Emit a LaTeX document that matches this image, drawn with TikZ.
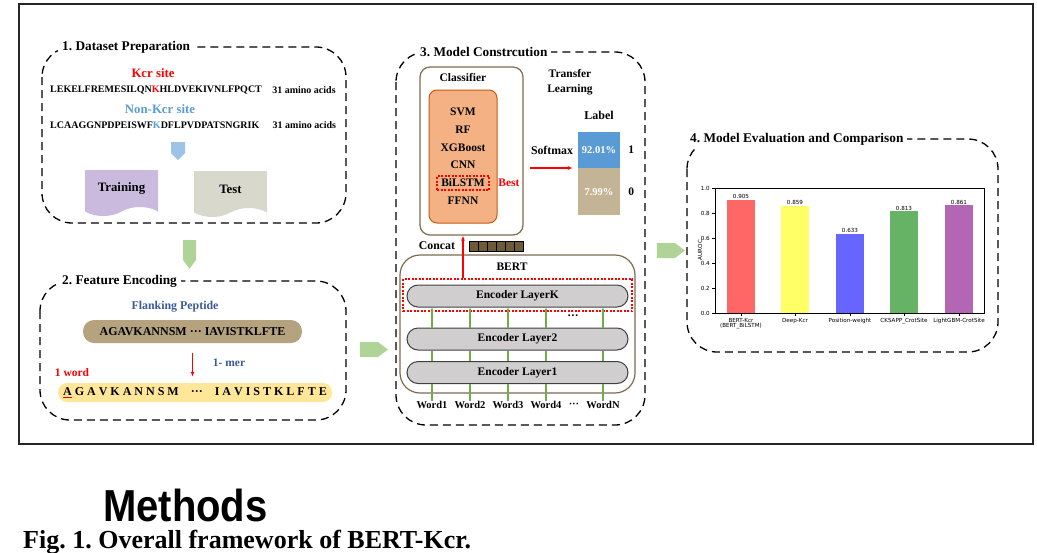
\documentclass[tikz,border=0pt]{standalone}
\usepackage{fontspec}
\setmainfont{Liberation Serif}
\newfontfamily\chartfont{DejaVu Sans}
\newfontfamily\methfont{Liberation Sans}
\usepackage{xcolor}
\usetikzlibrary{positioning,arrows.meta,shapes.symbols}
\frenchspacing

\newcommand{\fsize}[1]{\fontsize{#1}{#1}\selectfont}

\definecolor{kcrred}{RGB}{255,0,0}
\definecolor{nonblue}{RGB}{91,155,213}
\definecolor{darkblue}{RGB}{59,89,152}
\definecolor{trainpurple}{RGB}{201,186,222}
\definecolor{testgray}{RGB}{216,216,204}
\definecolor{flowgreen}{RGB}{176,212,152}
\definecolor{lightblue}{RGB}{157,195,230}
\definecolor{peptan}{RGB}{181,163,128}
\definecolor{wordyellow}{RGB}{255,230,153}
\definecolor{clforange}{RGB}{244,177,131}
\definecolor{clfedge}{RGB}{197,90,17}
\definecolor{brownedge}{RGB}{127,106,78}
\definecolor{encgray}{RGB}{208,206,206}
\definecolor{labtan}{RGB}{196,180,150}
\definecolor{concatbrown}{RGB}{110,90,55}
\definecolor{linegreen}{RGB}{112,173,71}
\definecolor{barred}{RGB}{255,102,102}
\definecolor{baryellow}{RGB}{255,255,102}
\definecolor{barblue}{RGB}{102,102,255}
\definecolor{bargreen}{RGB}{102,179,102}
\definecolor{barpurple}{RGB}{179,102,179}

\begin{document}
\begin{tikzpicture}[
  x=1pt, y=-1pt,
  panel/.style={draw, dash pattern=on 8pt off 5pt, line width=1.3pt, rounded corners=30pt},
  ptitle/.style={anchor=west, fill=white, inner xsep=4pt, inner ysep=3pt, font=\fsize{13.3}\bfseries},
  txt/.style={inner sep=0pt, font=\fsize{11.5}\bfseries},
  seq/.style={inner sep=0pt, font=\fsize{10}\bfseries},
  flow/.style={signal, fill=flowgreen, draw=none, inner sep=0pt, signal pointer angle=74},
  doc/.style={tape, tape bend top=none, tape bend bottom=in and out, tape bend height=9pt,
    draw=none, minimum width=73pt, minimum height=46pt, font=\fsize{12.8}\bfseries},
  enc/.style={draw=black!75, line width=1pt, fill=encgray, rounded corners=11pt,
    minimum width=221pt, minimum height=22pt, font=\fsize{11.5}\bfseries},
  redarr/.style={-{Latex[length=5pt,width=4pt]}, red, line width=1.1pt},
  gline/.style={linegreen, line width=1.1pt},
  chartlbl/.style={inner sep=0pt, font=\chartfont\fsize{5.6}}
]
\useasboundingbox (0,0) rectangle (1037,552);
\draw[line width=1.2pt, black!85] (19,4) rectangle (1033,444);

% --- 1. Dataset preparation ---
\draw[panel] (42,47) rectangle (346,223);
\node[ptitle] (t1) at (58,47) {1. Dataset Preparation};
\node[txt, font=\fsize{12.8}\bfseries, text=kcrred] (kcr) at (153,73) {Kcr site};
\node[seq, anchor=west] (seq1) at (50,90) {LEKELFREMESILQN\textcolor{kcrred}{K}HLDVEKIVNLFPQCT};
\node[seq, right=10pt of seq1] (len1) {31 amino acids};
\node[txt, font=\fsize{12.8}\bfseries, text=nonblue] (nonkcr) at (160,109) {Non-Kcr site};
\node[seq, anchor=west] (seq2) at (50,125) {LCAAGGNPDPEISWF\textcolor{nonblue}{K}DFLPVDPATSNGRIK};
\node[seq, right=13pt of seq2] (len2) {31 amino acids};
\node[flow, signal to=south, signal pointer angle=90, fill=lightblue, minimum width=14pt, minimum height=11pt] (split) at (178,147.5) {};
\node[doc, fill=trainpurple] (train) at (121.5,188.5) {Training};
\node[doc, fill=testgray] (test) at (230.5,189.5) {Test};

\node[flow, signal to=south, minimum width=13pt, minimum height=20pt] (g1) at (189.5,250) {};

% --- 2. Feature encoding ---
\draw[panel] (40,281) rectangle (346,420);
\node[ptitle] (t2) at (58,281) {2. Feature Encoding};
\node[txt, font=\fsize{11.9}\bfseries, text=darkblue] (flank) at (175,307) {Flanking Peptide};
\node[txt, font=\fsize{12}\bfseries, fill=peptan, rounded corners=11pt, minimum width=219pt, minimum height=23pt] (pep) at (192.5,331.5) {AGAVKANNSM ··· IAVISTKLFTE};
\node[txt, font=\fsize{12}\bfseries, fill=wordyellow, rounded corners=9pt, minimum width=274pt, minimum height=19pt] (word) at (195,392.5)
  {{\color{red}\underline{\color{black}A}} G A V K A N N S M\quad ···\quad I A V I S T K L F T E};
\draw[redarr, shorten <=10pt, shorten >=6pt] (pep.south) -- (pep.south |- word.north);
\node[txt, text=darkblue] (mer) at (229,363) {1- mer};
\node[txt, text=red] (oneword) at (72,373) {1 word};

\node[flow, signal to=east, minimum width=28pt, minimum height=15pt] (g2) at (369,349.5) {};

% --- 3. Model construction ---
\draw[panel] (396,52) rectangle (645,425);
\node[ptitle] (t3) at (416,52) {3. Model Constrcution};
\node[draw=brownedge, line width=1.2pt, rounded corners=10pt, minimum width=103pt, minimum height=168pt] (clf) at (471.5,151) {};
\node[txt] (clftitle) at (463,78) {Classifier};
\node[draw=clfedge, line width=1pt, fill=clforange, rounded corners=8pt, minimum width=68pt, minimum height=133pt] (orng) at (463,156.5) {};
\foreach \i/\y/\t in {1/112/SVM, 2/130/RF, 3/148/XGBoost, 4/165/CNN, 5/183/BiLSTM, 6/201/FFNN}
  \node[txt] (m\i) at (463,\y) {\t};
\node[draw=red, line width=1.2pt, dash pattern=on 2pt off 1.5pt, minimum width=52pt, minimum height=14pt] (bestbox) at (m5) {};
\node[txt, text=red] (best) at (509,183) {Best};

\node[txt, align=center] (transfer) at (570,82) {Transfer\\[4pt]Learning};
\node[txt, font=\fsize{12}\bfseries] (label) at (599,115) {Label};
\node[fill=nonblue, minimum width=42pt, minimum height=36pt, inner sep=0pt, text=white, font=\fsize{10.5}\bfseries] (lab1) at (599,150) {92.01\%};
\node[fill=labtan, minimum width=42pt, minimum height=47pt, inner sep=0pt, text=white, font=\fsize{10.5}\bfseries, below=0pt of lab1] (lab0) {7.99\%};
\node[txt, right=8pt of lab1] (one) {1};
\node[txt, right=8pt of lab0] (zero) {0};
\node[txt, font=\fsize{11.8}\bfseries] (softmax) at (552,150) {Softmax};
\coordinate (smstart) at (530,168);
\draw[redarr] (smstart) -- ([xshift=-5pt]smstart -| lab1.west);

\node[txt, font=\fsize{11.8}\bfseries] (concat) at (437,246) {Concat};
\foreach \i in {0,...,5}
  \draw[fill=concatbrown, line width=0.6pt] (469+9*\i,241) rectangle ++(9,10);

\node[draw=brownedge, line width=1.2pt, rounded corners=20pt, minimum width=235pt, minimum height=138pt] (bert) at (517.5,324) {};
\node[txt] (berttitle) at (512,267) {BERT};
\node[draw=red, line width=1.2pt, dash pattern=on 2pt off 1.5pt, minimum width=229pt, minimum height=32pt] (kbox) at (517.5,295) {};
\node[enc] (encK) at (517.5,296) {Encoder LayerK};
\node[enc] (enc2) at (517.5,339) {Encoder Layer2};
\node[enc] (enc1) at (517.5,372.5) {Encoder Layer1};
\node[txt] (vdots) at (573,317) {···};
\draw[redarr] (orng.south |- kbox.north) -- (orng.south |- clf.south);

\foreach \i/\x/\t in {1/432/Word1, 2/470/Word2, 3/508/Word3, 4/546/Word4, N/603/WordN}
  \node[txt, font=\fsize{10.5}\bfseries] (w\i) at (\x,405) {\t};
\node[txt, font=\fsize{10.5}\bfseries] (wdots) at (574,405) {···};
\foreach \i in {1,2,3,4,N} {
  \draw[gline] (w\i.north) -- (w\i.north |- enc1.south);
  \draw[gline] (w\i |- enc1.north) -- (w\i |- enc2.south);
  \draw[gline, -{Latex[length=3pt,width=3pt]}] (w\i |- enc2.north) -- (w\i |- encK.south);
}

\node[flow, signal to=east, minimum width=28pt, minimum height=15pt] (g3) at (666,250.5) {};

% --- 4. Model evaluation ---
\draw[panel] (687,139) rectangle (998,352);
\node[ptitle] (t4) at (686,139) {4. Model Evaluation and Comparison};
\coordinate (origin) at (715,313);
\coordinate (corner) at (984,188);
\foreach \x/\v/\c/\n in {741/0.905/barred/{BERT-Kcr\\(BERT\_BiLSTM)}, 795/0.859/baryellow/Deep-Kcr,
    850/0.633/barblue/Position-weight, 904/0.813/bargreen/CKSAPP\_CrotSite, 959/0.861/barpurple/LightGBM-CrotSite} {
  \fill[\c] (\x-14,313) rectangle (\x+14,{313-125*\v});
  \node[chartlbl, anchor=south] at (\x,{313-125*\v-1}) {\v};
  \draw[line width=0.5pt] (\x,313) -- (\x,316);
  \node[chartlbl, anchor=north, align=center] at (\x,318) {\n};
}
\foreach \v/\t in {0/0.0, 0.2/0.2, 0.4/0.4, 0.6/0.6, 0.8/0.8, 1/1.0} {
  \draw[line width=0.5pt] (715,{313-125*\v}) -- (712,{313-125*\v});
  \node[chartlbl, anchor=east] at (710,{313-125*\v}) {\t};
}
\draw[line width=0.8pt] (origin) rectangle (corner);
\node[chartlbl, rotate=90] (auroc) at (700,250) {AUROC};

% --- caption ---
\node[inner sep=0pt, anchor=base west, yscale=1.12, font=\methfont\bfseries\fsize{40}] (methods) at (103,521) {Methods};
\node[inner sep=0pt, anchor=base west, font=\bfseries\fsize{26}] (caption) at (23,548) {Fig. 1. Overall framework of BERT-Kcr.};
\end{tikzpicture}
\end{document}
